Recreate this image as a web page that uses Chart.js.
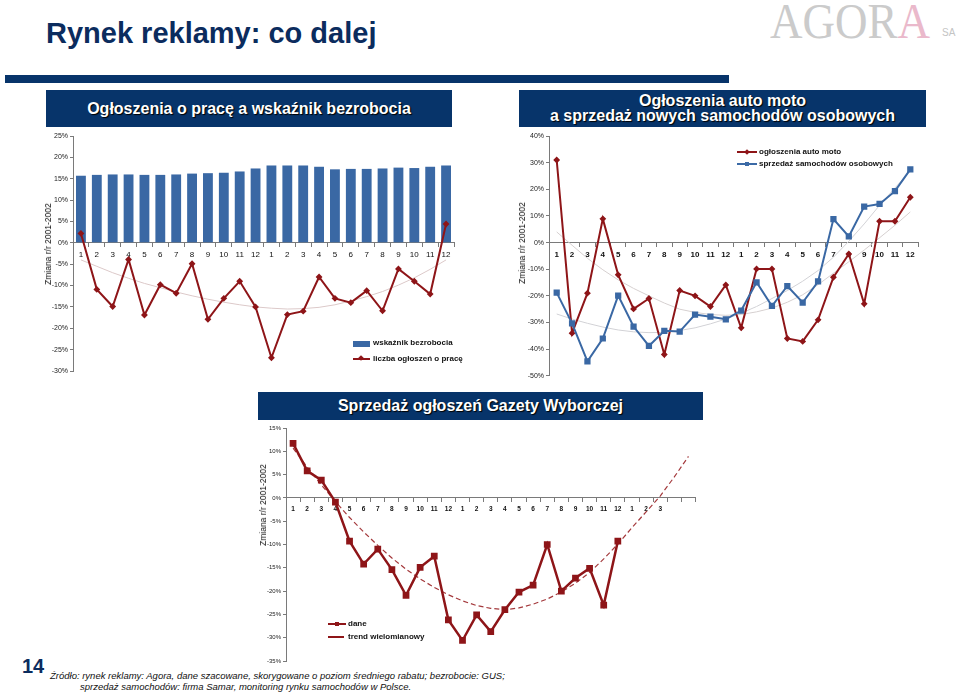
<!DOCTYPE html>
<html>
<head>
<meta charset="utf-8">
<script src="https://cdn.jsdelivr.net/npm/chart.js@4.4.1/dist/chart.umd.min.js"></script>
<style>
  body { margin: 0; width: 959px; height: 692px; position: relative; overflow: hidden; background: #fff; font-family: Arial, "Liberation Sans", sans-serif; }
  .abs { position: absolute; }
  .box { position: absolute; background: #07346a; color: #fff; font-weight: bold; text-align: center; text-shadow: 1px 1px 1px #000; }
  .leg { position: absolute; font-weight: bold; color: #111; white-space: nowrap; }
  .ytit { position: absolute; font-size: 8.5px; color: #111; white-space: nowrap; transform: translate(-50%, -50%) rotate(-90deg); }
  canvas { position: absolute; }
</style>
</head>
<body>

<div class="abs" style="left:46px;top:17px;font-size:29px;font-weight:bold;color:#0b2c5e;">Rynek reklamy: co dalej</div>
<div class="abs" style="left:5px;top:75px;width:724px;height:8px;background:#07346a;"></div>
<div class="abs" style="left:770px;top:-8px;font-family:'Liberation Serif','DejaVu Serif',serif;font-size:50px;color:#cbcbcb;transform:scaleX(0.9);transform-origin:left;white-space:nowrap;">AGOR<span style="color:#eab9cb">A</span></div>
<div class="abs" style="left:942px;top:27px;font-size:10px;color:#c4c4c4;">SA</div>

<div class="box" style="left:46px;top:90px;width:406px;height:37px;line-height:37px;font-size:16px;">Ogłoszenia o pracę a wskaźnik bezrobocia</div>
<div class="box" style="left:519px;top:90px;width:407px;height:37px;font-size:16px;line-height:15px;padding-top:3px;box-sizing:border-box;">Ogłoszenia auto moto<br>a sprzedaż nowych samochodów osobowych</div>
<div class="box" style="left:258px;top:392px;width:445px;height:28px;line-height:28px;font-size:16px;">Sprzedaż ogłoszeń Gazety Wyborczej</div>

<canvas id="c1" width="424" height="254" style="left:36px;top:126px;"></canvas>
<canvas id="c2" width="414" height="256" style="left:510px;top:126px;"></canvas>
<canvas id="c3" width="448" height="248" style="left:254px;top:420px;"></canvas>

<div class="ytit" style="left:48px;top:244px;">Zmiana r/r 2001-2002</div>
<div class="ytit" style="left:522px;top:243px;">Zmiana r/r 2001-2002</div>
<div class="ytit" style="left:263px;top:505px;">Zmiana r/r 2001-2002</div>

<!-- legend chart 1 -->
<div class="abs" style="left:353px;top:341px;width:17px;height:6px;background:#3a68a4;"></div>
<div class="leg" style="left:373px;top:338px;font-size:8px;">wskaźnik bezrobocia</div>
<div class="abs" style="left:353px;top:358px;width:17px;height:2px;background:#8e1518;"></div>
<div class="abs" style="left:359px;top:356px;width:4px;height:4px;background:#8e1518;transform:rotate(45deg);"></div>
<div class="leg" style="left:373px;top:354px;font-size:8px;">liczba ogłoszeń o pracę</div>

<!-- legend chart 2 -->
<div class="abs" style="left:737px;top:151px;width:20px;height:2px;background:#8e1518;"></div>
<div class="abs" style="left:745px;top:150px;width:4px;height:4px;background:#8e1518;transform:rotate(45deg);"></div>
<div class="leg" style="left:759px;top:147px;font-size:8px;">ogłoszenia auto moto</div>
<div class="abs" style="left:737px;top:163px;width:20px;height:2px;background:#3b6aa6;"></div>
<div class="abs" style="left:745px;top:162px;width:4px;height:4px;background:#3b6aa6;"></div>
<div class="leg" style="left:759px;top:159px;font-size:8px;">sprzedaż samochodów osobowych</div>

<!-- legend chart 3 -->
<div class="abs" style="left:328px;top:623px;width:18px;height:2px;background:#8e1518;"></div>
<div class="abs" style="left:335px;top:622px;width:4px;height:4px;background:#8e1518;"></div>
<div class="leg" style="left:348px;top:619px;font-size:8px;">dane</div>
<div class="abs" style="left:328px;top:636px;width:16px;height:2px;background:#8e1518;"></div>
<div class="leg" style="left:348px;top:632px;font-size:8px;">trend wielomianowy</div>

<div class="abs" style="left:22px;top:655px;font-size:20px;font-weight:bold;color:#0b2c5e;">14</div>
<div class="abs" style="left:50px;top:670px;font-size:9.5px;font-style:italic;color:#111;line-height:11px;white-space:nowrap;">Źródło: rynek reklamy: Agora, dane szacowane, skorygowane o poziom średniego rabatu; bezrobocie: GUS;<br><span style="padding-left:30px">sprzedaż samochodów: firma Samar, monitoring rynku samochodów w Polsce.</span></div>

<script>
// months 2001-2002
const months = ["1","2","3","4","5","6","7","8","9","10","11","12","1","2","3","4","5","6","7","8","9","10","11","12"];
const months3 = months.concat(["1","2","3","",""]);

// chart 1: unemployment rate vs job ads
const bezrobocie = [15.7,15.9,16.0,16.0,15.9,15.9,16.0,16.2,16.3,16.4,16.7,17.4,18.1,18.1,18.1,17.8,17.2,17.3,17.3,17.4,17.6,17.5,17.8,18.1];
const ogloszeniaPraca = [2.2,-10.9,-14.9,-3.9,-16.9,-9.8,-11.8,-4.9,-17.9,-13.0,-9.0,-15.0,-26.9,-16.8,-16.0,-8.0,-13.0,-14.0,-11.2,-15.9,-6.1,-9.0,-12.0,4.4];
const trendPraca = [-4.0,-5.5,-7.0,-8.3,-9.5,-10.5,-11.5,-12.4,-13.2,-13.9,-14.5,-15.0,-15.3,-15.5,-15.4,-15.1,-14.5,-13.6,-12.6,-11.4,-9.9,-8.2,-6.2,-4.0];

// chart 2: auto moto ads vs new car sales
const autoMoto = [31,-34,-19,8.9,-12.1,-24.9,-21,-42,-18,-20,-24,-15.9,-32,-9.9,-9.9,-36,-37.1,-29,-13,-4.3,-23,8,8,17];
const sprzedaz = [-18.8,-30.3,-44.6,-36,-19.9,-31.5,-38.8,-33.1,-33.4,-27,-27.8,-28.8,-25.5,-14.9,-23.8,-16.3,-22.5,-14.6,8.8,2.3,13.5,14.5,19.3,27.5];
const trendAuto = [4,-1,-5.9,-10.2,-14,-17.2,-20,-22.7,-25,-26.2,-27,-27.3,-27,-26,-24.6,-22.4,-19.6,-15.8,-11.5,-7.2,-2.8,1.8,6.5,11.5];
const trendSprzedaz = [-26.8,-28.7,-30.3,-31.7,-32.8,-33.5,-33.8,-33.7,-33.0,-32.0,-30.5,-28.7,-26.5,-24.0,-21.0,-18.0,-14.5,-10.5,-5.5,0.5,7.0,14.0,20.5,27.0];

// chart 3: Gazeta Wyborcza ad sales
const dane = [11.7,5.8,3.8,-0.9,-9.3,-14.2,-11.0,-15.4,-20.9,-14.9,-12.5,-26.2,-30.6,-25.1,-28.7,-24.0,-20.2,-18.7,-10.0,-20.0,-17.2,-15.1,-23.0,-9.3,null,null,null,null,null];
const trendGW = [10.7,6.6,2.8,-0.8,-4.2,-7.3,-10.2,-12.9,-15.3,-17.4,-19.2,-20.8,-22.1,-23.1,-23.7,-24.0,-23.6,-22.8,-21.7,-20.2,-18.3,-16.0,-13.1,-9.9,-6.4,-3.0,0.4,4.5,8.9];

const RED = "#8e1518";
const BLUE = "#3a68a4";
const AXIS = "#7a7a7a";

function xScale(fontSize, bold) {
  return {
    type: "category",
    position: { y: 0 },
    offset: true,
    grid: { display: true, drawOnChartArea: false, offset: true, tickLength: 4, color: AXIS },
    border: { color: AXIS, width: 1 },
    ticks: { color: "#111", font: { size: fontSize, weight: bold ? "bold" : "normal", family: "Arial" }, maxRotation: 0, autoSkip: false, padding: 3 },
    afterFit: (s) => { s.height = 0; }
  };
}

function yScale(min, max, step, fontSize, width) {
  return {
    min: min, max: max,
    grid: { display: true, drawOnChartArea: false, tickLength: 3, color: AXIS },
    border: { color: AXIS, width: 1 },
    ticks: { stepSize: step, color: "#222", font: { size: fontSize, family: "Arial" }, padding: 2, callback: (v) => v + "%" },
    afterFit: (s) => { s.width = width; }
  };
}

const commonOpts = {
  responsive: false,
  animation: false,
  plugins: { legend: { display: false }, tooltip: { enabled: false } },
  elements: { line: { tension: 0 } }
};

new Chart(document.getElementById("c1"), {
  type: "bar",
  data: {
    labels: months,
    datasets: [
      { type: "line", data: trendPraca, borderColor: "#dcc9c9", borderWidth: 1, pointRadius: 0, order: 3 },
      { type: "bar", data: bezrobocie, backgroundColor: BLUE, barPercentage: 0.62, categoryPercentage: 1, order: 2 },
      { type: "line", data: ogloszeniaPraca, borderColor: RED, borderWidth: 2, pointStyle: "rectRot", pointRadius: 2, pointBackgroundColor: RED, pointBorderColor: RED, order: 1 }
    ]
  },
  options: Object.assign({}, commonOpts, {
    layout: { padding: { top: 10, bottom: 9, right: 6, left: 0 } },
    scales: { x: xScale(8, false), y: yScale(-30, 25, 5, 7, 37) }
  })
});

new Chart(document.getElementById("c2"), {
  type: "line",
  data: {
    labels: months,
    datasets: [
      { data: trendAuto, borderColor: "#d6d0d0", borderWidth: 1, pointRadius: 0, order: 4 },
      { data: trendSprzedaz, borderColor: "#d2d2d6", borderWidth: 1, pointRadius: 0, order: 3 },
      { data: autoMoto, borderColor: RED, borderWidth: 2, pointStyle: "rectRot", pointRadius: 2, pointBackgroundColor: RED, pointBorderColor: RED, order: 2 },
      { data: sprzedaz, borderColor: BLUE, borderWidth: 2, pointStyle: "rect", pointRadius: 3, pointBackgroundColor: BLUE, pointBorderColor: BLUE, order: 1 }
    ]
  },
  options: Object.assign({}, commonOpts, {
    layout: { padding: { top: 10, bottom: 6, right: 6, left: 0 } },
    scales: { x: xScale(8, true), y: yScale(-50, 40, 10, 7, 39) }
  })
});

new Chart(document.getElementById("c3"), {
  type: "line",
  data: {
    labels: months3,
    datasets: [
      { data: trendGW, borderColor: "#a4393c", borderWidth: 1.2, borderDash: [5, 3], pointRadius: 0, order: 2 },
      { data: dane, borderColor: RED, borderWidth: 2.5, pointStyle: "rect", pointRadius: 3, pointBackgroundColor: RED, pointBorderColor: RED, order: 1 }
    ]
  },
  options: Object.assign({}, commonOpts, {
    layout: { padding: { top: 8, bottom: 7, right: 5, left: 0 } },
    scales: { x: xScale(6.5, true), y: yScale(-35, 15, 5, 6, 32) }
  })
});
</script>
</body>
</html>
